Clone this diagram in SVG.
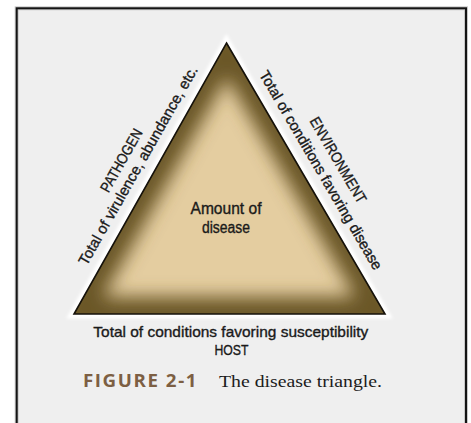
<svg xmlns="http://www.w3.org/2000/svg" width="471" height="423" viewBox="0 0 471 423">
  <style>
    .lbl { font-family: "Liberation Sans", Arial, sans-serif; font-size: 15px; fill: #1a1a1a; stroke: #1a1a1a; stroke-width: 0.35px; text-anchor: middle; }
    .mid { font-size: 16px; }
    .fig { font-family: "Open Sans", "Liberation Sans", sans-serif; font-weight: bold; font-size: 18px; fill: #7d5f43; letter-spacing: 1.5px; }
    .cap { font-family: "Liberation Serif", "Times New Roman", serif; font-size: 17px; fill: #1c1c1c; }
  </style>
  <defs>
    <path id="tri" d="M226.5,43 L385,314 L74,314 Z"/>
    <clipPath id="triClip"><use href="#tri"/></clipPath>
    <filter id="blur8" x="-20%" y="-20%" width="140%" height="140%"><feGaussianBlur stdDeviation="9"/></filter>
    <filter id="blur2" x="-20%" y="-20%" width="140%" height="140%"><feGaussianBlur stdDeviation="1.5"/></filter>
  </defs>

  <rect x="0" y="0" width="471" height="423" fill="#ffffff"/>
  <g id="frame">
    <rect x="16.7" y="8.3" width="449.3" height="430" fill="#efefef" stroke="#c8c8c8" stroke-width="4"/>
    <rect x="16.7" y="8.3" width="449.3" height="430" fill="none" stroke="#141414" stroke-width="2"/>
  </g>

  <g id="triangle">
    <use href="#tri" fill="none" stroke="#ffffff" stroke-width="9" filter="url(#blur2)"/>
    <use href="#tri" fill="#e4cda0"/>
    <g clip-path="url(#triClip)">
      <use href="#tri" fill="none" stroke="#6a5627" stroke-width="34" filter="url(#blur8)"/>
    </g>
    <use href="#tri" fill="none" stroke="#15110a" stroke-width="1.6" stroke-linejoin="miter"/>
    <text class="lbl mid" x="226" y="214" textLength="71" lengthAdjust="spacingAndGlyphs">Amount of</text>
    <text class="lbl mid" x="226" y="233" textLength="48" lengthAdjust="spacingAndGlyphs">disease</text>
  </g>

  <g id="pathogen">
    <text class="lbl" transform="translate(125.7,163) rotate(-60.46)" x="0" y="0" textLength="70" lengthAdjust="spacingAndGlyphs">PATHOGEN</text>
    <text class="lbl" transform="translate(142.5,167.9) rotate(-60.46)" x="0" y="0" textLength="226" lengthAdjust="spacingAndGlyphs">Total of virulence, abundance, etc.</text>
  </g>

  <g id="environment">
    <text class="lbl" transform="translate(333.7,162.7) rotate(59.6)" x="0" y="0" textLength="97" lengthAdjust="spacingAndGlyphs">ENVIRONMENT</text>
    <text class="lbl" transform="translate(316.5,172.8) rotate(59.6)" x="0" y="0" textLength="228" lengthAdjust="spacingAndGlyphs">Total of conditions favoring disease</text>
  </g>

  <g id="host">
    <text class="lbl" x="230.8" y="337" textLength="275" lengthAdjust="spacingAndGlyphs">Total of conditions favoring susceptibility</text>
    <text class="lbl" x="231.5" y="355" textLength="34" lengthAdjust="spacingAndGlyphs">HOST</text>
  </g>

  <g id="caption">
    <text class="fig" x="83" y="387" textLength="115" lengthAdjust="spacingAndGlyphs">FIGURE 2-1</text>
    <text class="cap" x="219" y="387" textLength="163" lengthAdjust="spacingAndGlyphs">The disease triangle.</text>
  </g>
</svg>
